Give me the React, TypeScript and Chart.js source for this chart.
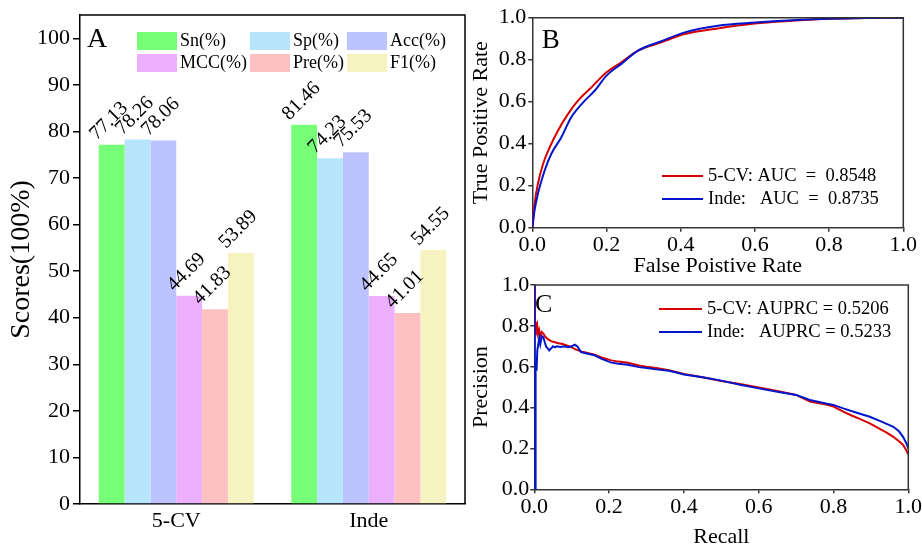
import React, { useEffect, useRef } from 'react';
import { Chart, registerables } from 'chart.js';
Chart.register(...registerables);

const FONT = 'Liberation Serif';

// ---------- Panel A data ----------
const categories = ['5-CV', 'Inde'];
const metricNames = ['Sn(%)', 'Sp(%)', 'Acc(%)', 'MCC(%)', 'Pre(%)', 'F1(%)'];
const snValues = [77.13, 81.46];
const spValues = [78.26, 74.23];
const accValues = [78.06, 75.53];
const mccValues = [44.69, 44.65];
const preValues = [41.83, 41.01];
const f1Values = [53.89, 54.55];
const scoreTicks = [0, 10, 20, 30, 40, 50, 60, 70, 80, 90, 100];
const barColors = ['#77FF77', '#B6E5FD', '#BCC3FE', '#ECAFFD', '#FDC1C1', '#F6F3C1'];

// ---------- Panel B data (ROC) ----------
const rocCvFpr = [0, 0.003, 0.006, 0.015, 0.029, 0.047, 0.069, 0.096, 0.123, 0.159, 0.2, 0.24, 0.285, 0.348, 0.411, 0.5, 0.6, 0.7, 0.8, 0.9, 1.0];
const rocCvTpr = [0, 0.06, 0.113, 0.208, 0.303, 0.383, 0.462, 0.541, 0.605, 0.668, 0.74, 0.788, 0.843, 0.883, 0.922, 0.949, 0.972, 0.985, 0.995, 0.999, 1.0];
const rocIndeFpr = [0, 0.003, 0.006, 0.015, 0.033, 0.051, 0.078, 0.105, 0.137, 0.168, 0.2, 0.24, 0.285, 0.348, 0.411, 0.5, 0.6, 0.7, 0.8, 0.9, 1.0];
const rocIndeTpr = [0, 0.04, 0.081, 0.16, 0.271, 0.351, 0.43, 0.526, 0.597, 0.652, 0.724, 0.78, 0.843, 0.888, 0.93, 0.962, 0.977, 0.988, 0.995, 0.999, 1.0];
const rocLegend = ['5-CV: AUC  =  0.8548', 'Inde:   AUC  =  0.8735'];

// ---------- Panel C data (PR) ----------
const prCvRecall = [0.001, 0.002, 0.004, 0.006, 0.008, 0.010, 0.013, 0.016, 0.020, 0.025, 0.030, 0.037, 0.045, 0.055, 0.065, 0.075, 0.085, 0.098, 0.11, 0.125, 0.14, 0.161, 0.18, 0.206, 0.225, 0.25, 0.28, 0.3, 0.326, 0.36, 0.4, 0.45, 0.5, 0.55, 0.6, 0.65, 0.7, 0.737, 0.78, 0.8, 0.826, 0.85, 0.87, 0.897, 0.92, 0.94, 0.96, 0.975, 0.986, 0.995, 1.0];
const prCvPrecision = [1.0, 0.76, 0.82, 0.78, 0.80, 0.76, 0.78, 0.75, 0.77, 0.76, 0.745, 0.734, 0.725, 0.72, 0.715, 0.711, 0.705, 0.697, 0.685, 0.675, 0.668, 0.659, 0.645, 0.631, 0.625, 0.62, 0.606, 0.6, 0.594, 0.583, 0.564, 0.548, 0.53, 0.515, 0.498, 0.481, 0.462, 0.429, 0.415, 0.405, 0.38, 0.36, 0.345, 0.323, 0.3, 0.28, 0.257, 0.235, 0.217, 0.19, 0.17];
const prIndeRecall = [0.001, 0.002, 0.003, 0.004, 0.006, 0.008, 0.010, 0.013, 0.016, 0.020, 0.024, 0.028, 0.032, 0.036, 0.040, 0.045, 0.050, 0.055, 0.060, 0.070, 0.080, 0.090, 0.100, 0.108, 0.115, 0.125, 0.14, 0.161, 0.18, 0.206, 0.225, 0.25, 0.28, 0.3, 0.326, 0.36, 0.38, 0.4, 0.45, 0.5, 0.55, 0.6, 0.65, 0.7, 0.737, 0.78, 0.8, 0.826, 0.86, 0.897, 0.93, 0.96, 0.975, 0.986, 0.995, 1.0];
const prIndePrecision = [1.0, 0.0, 0.5, 0.62, 0.58, 0.68, 0.70, 0.74, 0.71, 0.75, 0.745, 0.72, 0.697, 0.69, 0.68, 0.69, 0.70, 0.695, 0.70, 0.697, 0.70, 0.695, 0.70, 0.708, 0.70, 0.672, 0.665, 0.656, 0.638, 0.62, 0.615, 0.61, 0.598, 0.594, 0.587, 0.58, 0.572, 0.562, 0.548, 0.532, 0.512, 0.494, 0.478, 0.462, 0.437, 0.42, 0.413, 0.396, 0.376, 0.355, 0.33, 0.306, 0.284, 0.257, 0.225, 0.2];
const prLegend = ['5-CV: AUPRC = 0.5206', 'Inde:   AUPRC = 0.5233'];

const unitTicks = [0, 0.2, 0.4, 0.6, 0.8, 1.0];

const RED = 'rgb(214,0,0)';
const BLUE = 'rgb(0,22,205)';
const AXIS_DARK = '#333';

function boxPlugin(color: string, width: number) {
  return {
    id: 'boxFrame',
    afterDraw(chart: any) {
      const { ctx, chartArea } = chart;
      ctx.save();
      ctx.strokeStyle = color;
      ctx.lineWidth = width;
      ctx.beginPath();
      ctx.moveTo(chartArea.left, chartArea.top);
      ctx.lineTo(chartArea.right, chartArea.top);
      ctx.lineTo(chartArea.right, chartArea.bottom);
      ctx.stroke();
      ctx.restore();
    },
  };
}

function letterPlugin(letter: string, dx: number, dy: number, size: number) {
  return {
    id: 'panelLetter',
    afterDraw(chart: any) {
      const { ctx, chartArea } = chart;
      ctx.save();
      ctx.font = `${size}px ${FONT}`;
      ctx.fillStyle = '#000';
      ctx.textAlign = 'left';
      ctx.textBaseline = 'alphabetic';
      ctx.fillText(letter, chartArea.left + dx, chartArea.top + dy);
      ctx.restore();
    },
  };
}

function lineLegendPlugin(x0: number, x1: number, tx: number, ys: number[], texts: string[]) {
  return {
    id: 'lineLegend',
    afterDraw(chart: any) {
      const { ctx } = chart;
      ctx.save();
      ctx.font = `18.5px ${FONT}`;
      ctx.textAlign = 'left';
      ctx.textBaseline = 'middle';
      chart.data.datasets.forEach((ds: any, i: number) => {
        ctx.strokeStyle = ds.borderColor;
        ctx.lineWidth = 2;
        ctx.beginPath();
        ctx.moveTo(x0, ys[i]);
        ctx.lineTo(x1, ys[i]);
        ctx.stroke();
        ctx.fillStyle = '#000';
        ctx.fillText(texts[i], tx, ys[i]);
      });
      ctx.restore();
    },
  };
}

const barLegendPlugin = {
  id: 'barLegend',
  afterDraw(chart: any) {
    const { ctx } = chart;
    const colX = [137, 250, 347];
    const rowY = [32, 54];
    ctx.save();
    ctx.font = `18px ${FONT}`;
    ctx.textAlign = 'left';
    ctx.textBaseline = 'middle';
    chart.data.datasets.forEach((ds: any, i: number) => {
      const c = i % 3;
      const r = Math.floor(i / 3);
      ctx.fillStyle = ds.backgroundColor;
      ctx.fillRect(colX[c], rowY[r], 40, 18);
      ctx.fillStyle = '#000';
      ctx.fillText(ds.label, colX[c] + 43, rowY[r] + 9.5);
    });
    ctx.restore();
  },
};

const barValuePlugin = {
  id: 'barValues',
  afterDatasetsDraw(chart: any) {
    const { ctx } = chart;
    ctx.save();
    ctx.font = `20px ${FONT}`;
    ctx.fillStyle = '#000';
    ctx.textAlign = 'left';
    ctx.textBaseline = 'alphabetic';
    chart.data.datasets.forEach((ds: any, di: number) => {
      const meta = chart.getDatasetMeta(di);
      meta.data.forEach((el: any, i: number) => {
        const { x, y, width } = el.getProps(['x', 'y', 'width'], true);
        ctx.save();
        ctx.translate(x - width / 2 - 2, y - 4);
        ctx.rotate(-Math.PI / 4);
        ctx.fillText(Number(ds.data[i]).toFixed(2), 0, 0);
        ctx.restore();
      });
    });
    ctx.restore();
  },
};

function unitAxis(
  axis: 'x' | 'y',
  title: string,
  size: number,
  tickPad: number,
  titlePad: any
) {
  return {
    type: 'linear',
    min: 0,
    max: 1,
    afterBuildTicks(s: any) {
      s.ticks = unitTicks.map((v) => ({ value: v }));
    },
    afterFit(s: any) {
      if (axis === 'x') {
        s.height = size;
        s.paddingLeft = 0;
        s.paddingRight = 0;
      } else {
        s.width = size;
        s.paddingTop = 0;
        s.paddingBottom = 0;
      }
    },
    ticks: {
      font: { family: FONT, size: 22 },
      color: '#000',
      padding: tickPad,
      callback: (v: any) => Number(v).toFixed(1),
    },
    grid: {
      drawOnChartArea: false,
      drawTicks: true,
      tickLength: 4,
      color: AXIS_DARK,
      lineWidth: 1.5,
    },
    border: { display: true, color: AXIS_DARK, width: 1.5 },
    title: {
      display: true,
      text: title,
      color: '#000',
      font: { family: FONT, size: 22 },
      padding: titlePad,
    },
  };
}

export default function App() {
  const aRef = useRef<HTMLCanvasElement>(null);
  const bRef = useRef<HTMLCanvasElement>(null);
  const cRef = useRef<HTMLCanvasElement>(null);

  useEffect(() => {
    const charts: Chart[] = [];
    const barSeries = [snValues, spValues, accValues, mccValues, preValues, f1Values];

    if (aRef.current) {
      charts.push(
        new Chart(aRef.current, {
          type: 'bar',
          data: {
            labels: categories,
            datasets: metricNames.map((name, i) => ({
              label: name,
              data: barSeries[i],
              backgroundColor: barColors[i],
              borderWidth: 0,
            })),
          },
          options: {
            animation: false,
            responsive: false,
            events: [],
            layout: { padding: { top: 15, right: 15, left: 0, bottom: 0 } },
            datasets: { bar: { categoryPercentage: 0.805, barPercentage: 1.0 } },
            plugins: { legend: { display: false }, tooltip: { enabled: false } },
            scales: {
              x: {
                afterFit(s: any) {
                  s.height = 43;
                  s.paddingLeft = 0;
                  s.paddingRight = 0;
                },
                grid: { display: false, drawTicks: false },
                border: { display: true, color: '#000', width: 1.5 },
                ticks: { font: { family: FONT, size: 22 }, color: '#000', padding: 4 },
              },
              y: {
                min: 0,
                max: 105,
                afterBuildTicks(s: any) {
                  s.ticks = scoreTicks.map((v) => ({ value: v }));
                },
                afterFit(s: any) {
                  s.width = 80;
                  s.paddingTop = 0;
                  s.paddingBottom = 0;
                },
                ticks: { font: { family: FONT, size: 22 }, color: '#000', padding: 3 },
                grid: {
                  drawOnChartArea: false,
                  drawTicks: true,
                  tickLength: 7,
                  color: '#000',
                  lineWidth: 1.5,
                },
                border: { display: true, color: '#000', width: 1.5 },
                title: {
                  display: true,
                  text: 'Scores(100%)',
                  color: '#000',
                  font: { family: FONT, size: 28 },
                  padding: { top: 5, bottom: 0 },
                },
              },
            },
          } as any,
          plugins: [boxPlugin('#000', 1.5), barValuePlugin, barLegendPlugin, letterPlugin('A', 7, 32, 28)],
        })
      );
    }

    if (bRef.current) {
      charts.push(
        new Chart(bRef.current, {
          type: 'line',
          data: {
            datasets: [
              {
                label: rocLegend[0],
                data: rocCvFpr.map((x, i) => ({ x, y: rocCvTpr[i] })),
                borderColor: RED,
                borderWidth: 2,
                pointRadius: 0,
                cubicInterpolationMode: 'monotone',
                order: 1,
              },
              {
                label: rocLegend[1],
                data: rocIndeFpr.map((x, i) => ({ x, y: rocIndeTpr[i] })),
                borderColor: BLUE,
                borderWidth: 2,
                pointRadius: 0,
                cubicInterpolationMode: 'monotone',
                order: 0,
              },
            ],
          },
          options: {
            animation: false,
            responsive: false,
            events: [],
            layout: { padding: { top: 17.7, right: 18.7, left: 0, bottom: 0 } },
            plugins: { legend: { display: false }, tooltip: { enabled: false } },
            scales: {
              x: unitAxis('x', 'False Poistive Rate', 52.3, 0, { top: 0, bottom: 0.8 }),
              y: unitAxis('y', 'True Positive Rate', 72.3, 2, { top: 7.8, bottom: 0 }),
            },
          } as any,
          plugins: [
            boxPlugin(AXIS_DARK, 1.5),
            letterPlugin('B', 9.4, 30.3, 27),
            lineLegendPlugin(202, 243, 248, [176, 199], rocLegend),
          ],
        })
      );
    }

    if (cRef.current) {
      charts.push(
        new Chart(cRef.current, {
          type: 'line',
          data: {
            datasets: [
              {
                label: prLegend[0],
                data: prCvRecall.map((x, i) => ({ x, y: prCvPrecision[i] })),
                borderColor: RED,
                borderWidth: 2,
                pointRadius: 0,
                tension: 0,
                order: 1,
              },
              {
                label: prLegend[1],
                data: prIndeRecall.map((x, i) => ({ x, y: prIndePrecision[i] })),
                borderColor: BLUE,
                borderWidth: 2,
                pointRadius: 0,
                tension: 0,
                order: 0,
              },
            ],
          },
          options: {
            animation: false,
            responsive: false,
            events: [],
            layout: { padding: { top: 15, right: 13.7, left: 0, bottom: 0 } },
            plugins: { legend: { display: false }, tooltip: { enabled: false } },
            scales: {
              x: unitAxis('x', 'Recall', 60.7, 1, { top: 0, bottom: 0 }),
              y: unitAxis('y', 'Precision', 74.3, 1, { top: 7.8, bottom: 0 }),
            },
          } as any,
          plugins: [
            boxPlugin(AXIS_DARK, 1.5),
            letterPlugin('C', 0.7, 26.7, 26),
            lineLegendPlugin(199, 242, 247, [39, 62], prLegend),
          ],
        })
      );
    }

    return () => charts.forEach((c) => c.destroy());
  }, []);

  return (
    <div
      style={{
        position: 'absolute',
        left: 0,
        top: 0,
        width: 922,
        height: 547,
        overflow: 'hidden',
        background: '#fff',
      }}
    >
      <canvas ref={aRef} width={480} height={547} style={{ position: 'absolute', left: 0, top: 0, width: 480, height: 547 }} />
      <canvas ref={bRef} width={462} height={280} style={{ position: 'absolute', left: 460, top: 0, width: 462, height: 280 }} />
      <canvas ref={cRef} width={462} height={280} style={{ position: 'absolute', left: 460, top: 270, width: 462, height: 280 }} />
    </div>
  );
}
